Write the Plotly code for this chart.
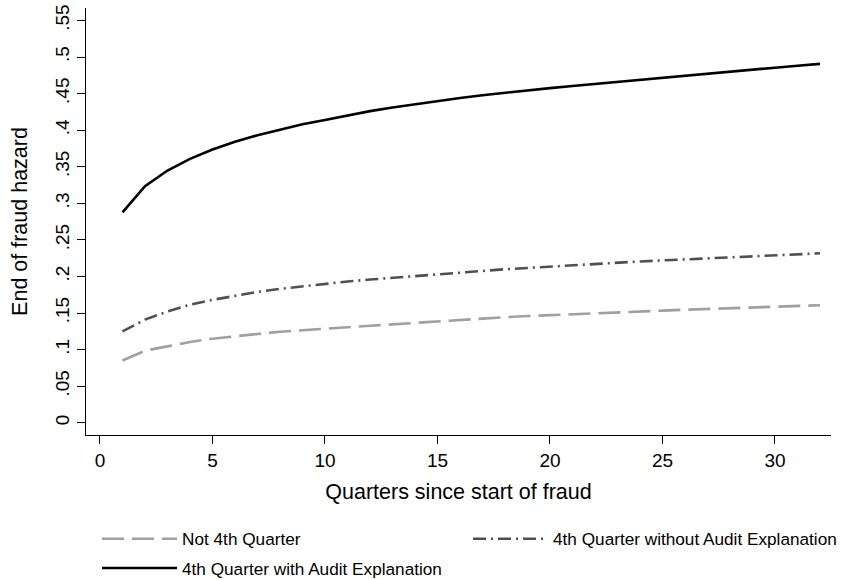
import plotly.graph_objects as go

quarters = list(range(1, 33))

not_4th = [0.0850, 0.0985, 0.1044, 0.1104, 0.1149, 0.1186, 0.1213, 0.1243,
           0.1261, 0.1282, 0.1305, 0.1325, 0.1345, 0.1366, 0.1388, 0.1408,
           0.1426, 0.1443, 0.1458, 0.1472, 0.1485, 0.1497, 0.1509, 0.1520,
           0.1532, 0.1545, 0.1556, 0.1567, 0.1577, 0.1587, 0.1596, 0.1606]

q4_no_audit = [0.1250, 0.1410, 0.1520, 0.1614, 0.1680, 0.1738, 0.1788, 0.1830,
               0.1865, 0.1900, 0.1930, 0.1957, 0.1982, 0.2007, 0.2032, 0.2056,
               0.2078, 0.2098, 0.2116, 0.2135, 0.2155, 0.2173, 0.2190, 0.2205,
               0.2219, 0.2234, 0.2250, 0.2265, 0.2279, 0.2293, 0.2306, 0.2316]

q4_audit = [0.2877, 0.3234, 0.3448, 0.3608, 0.3735, 0.3840, 0.3930, 0.4010,
            0.4080, 0.4140, 0.4203, 0.4260, 0.4310, 0.4356, 0.4400, 0.4440,
            0.4478, 0.4512, 0.4544, 0.4574, 0.4603, 0.4632, 0.4660, 0.4689,
            0.4717, 0.4746, 0.4773, 0.4801, 0.4828, 0.4854, 0.4880, 0.4906]

series_names = ["Not 4th Quarter",
                "4th Quarter without Audit Explanation",
                "4th Quarter with Audit Explanation"]

y_tickvals = [0, 0.05, 0.1, 0.15, 0.2, 0.25, 0.3, 0.35, 0.4, 0.45, 0.5, 0.55]
y_ticktext = ["0", ".05", ".1", ".15", ".2", ".25", ".3", ".35", ".4", ".45", ".5", ".55"]
x_tickvals = [0, 5, 10, 15, 20, 25, 30]

FONT = "Liberation Sans, Arial, Helvetica, sans-serif"

fig = go.Figure()
fig.add_trace(go.Scatter(
    x=quarters, y=not_4th, mode="lines", name=series_names[0],
    line=dict(color="#a0a0a0", width=2.6, dash="22px,8px"),
    legend="legend", legendgroup="a"))
fig.add_trace(go.Scatter(
    x=quarters, y=q4_no_audit, mode="lines", name=series_names[1],
    line=dict(color="#505050", width=2.6, dash="13px,5px,2px,5px"),
    legend="legend2", legendgroup="b"))
fig.add_trace(go.Scatter(
    x=quarters, y=q4_audit, mode="lines", name=series_names[2],
    line=dict(color="#000000", width=2.6),
    legend="legend", legendgroup="c"))

fig.update_layout(
    width=842, height=580,
    margin=dict(l=86, r=11, t=8, b=145, autoexpand=False),
    paper_bgcolor="white", plot_bgcolor="white",
    font=dict(family=FONT, color="#000000", size=19),
    xaxis=dict(
        range=[-0.622, 32.49], tickvals=x_tickvals, automargin=True,
        showline=True, linecolor="#000000", linewidth=1.2,
        ticks="outside", ticklen=8, tickwidth=1.2, tickcolor="#000000",
        showgrid=False, zeroline=False,
        tickfont=dict(size=19),
        title=dict(text="Quarters since start of fraud", font=dict(size=21.5), standoff=14),
    ),
    yaxis=dict(
        range=[-0.0168, 0.567], tickvals=y_tickvals, ticktext=y_ticktext,
        tickangle=-90, automargin=True,
        showline=True, linecolor="#000000", linewidth=1.2,
        ticks="outside", ticklen=8, tickwidth=1.2, tickcolor="#000000",
        showgrid=False, zeroline=False,
        tickfont=dict(size=19),
        title=dict(text="End of fraud hazard", font=dict(size=21.5), standoff=18),
    ),
    legend=dict(
        orientation="v", x=0.0148, xanchor="left", y=-0.2014, yanchor="top",
        font=dict(size=17.2), traceorder="grouped", tracegroupgap=4,
        bgcolor="rgba(0,0,0,0)", itemwidth=75,
    ),
    legend2=dict(
        orientation="v", x=0.5128, xanchor="left", y=-0.2014, yanchor="top",
        font=dict(size=17.2), bgcolor="rgba(0,0,0,0)", itemwidth=75,
    ),
)

fig.write_html("out.html", config={"displayModeBar": False},
               post_script="document.body.style.margin='0px';")
